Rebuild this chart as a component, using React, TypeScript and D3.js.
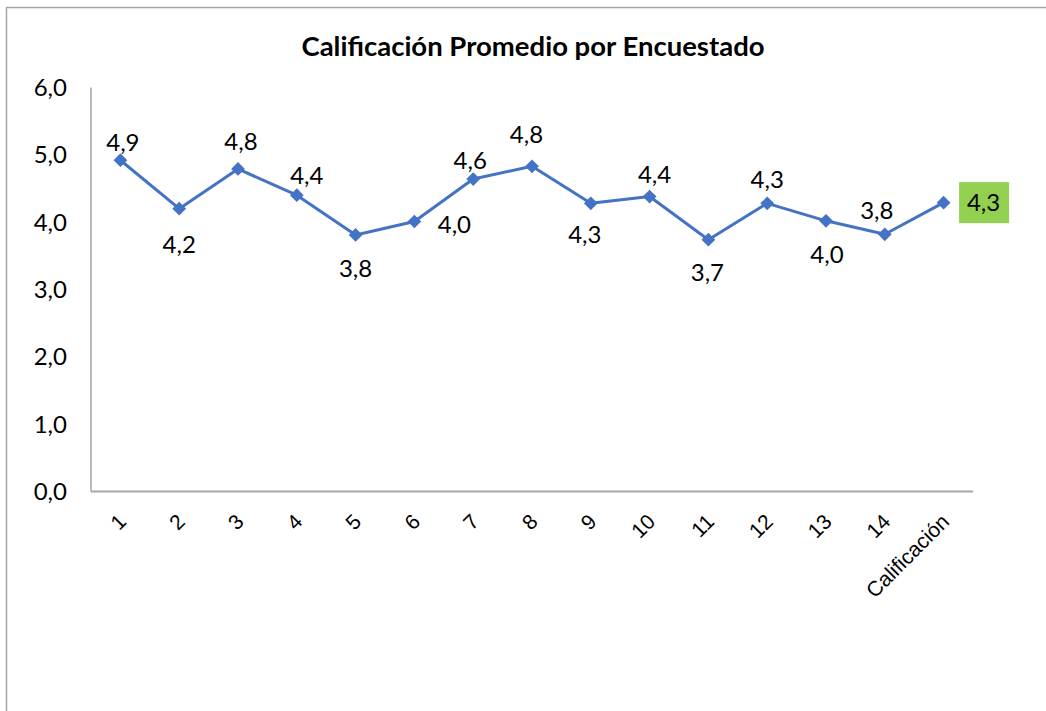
import React from "react";
import * as d3 from "d3";

const categories = ["1","2","3","4","5","6","7","8","9","10","11","12","13","14","Calificación"];
const values = [4.92,4.2,4.79,4.4,3.81,4.01,4.64,4.83,4.28,4.38,3.74,4.28,4.02,3.82,4.29];
const labels = ["4,9","4,2","4,8","4,4","3,8","4,0","4,6","4,8","4,3","4,4","3,7","4,3","4,0","3,8","4,3"];
const labelPos = ["above","below","above","above","below","right","above","above","below","above","below","above","below","above","box"];
// label nudges relative to the point (layout only)
const labelNudge: [number, number][] = [
  [2.5,-18],[0,36],[3,-27],[10,-19.5],[0,34],[40,3],[-3,-18.5],[-5.5,-31.5],
  [-6,31],[5,-22],[-1,33],[0,-24],[1,34],[-8,-24],[40,0],
];
const yTicks = [0,1,2,3,4,5,6];
const title = "Calificación Promedio por Encuestado";

const W = 1046, H = 711;
const left = 91, right = 973, top = 87.5, bottom = 491.5;
const CAL = "Lato, Carlito, sans-serif";
const ARIAL = "'Liberation Sans', Arial, sans-serif";

export default function App() {
  const x = d3.scaleBand<string>().domain(categories).range([left, right]);
  const y = d3.scaleLinear().domain([0, 6]).range([bottom, top]);
  const cx = (i: number) => (x(categories[i]) as number) + x.bandwidth() / 2;
  const line = d3.line<number>().x((_, i) => cx(i)).y((d) => y(d));
  const diamond = d3.symbol().type(d3.symbolDiamond2).size(120)();

  return (
    <svg width={W} height={H} style={{ position: "absolute", left: 0, top: 0, background: "#fff" }}>
      <rect x={6.5} y={7.5} width={W + 10} height={H + 10} fill="#fff" stroke="#a6a6a6" strokeWidth={1.5} />
      <text x={533} y={46} dy="0.35em" textAnchor="middle" fontFamily={CAL} fontWeight="bold" fontSize={27.5} fill="#000">{title}</text>
      {yTicks.map((t) => (
        <text key={t} x={67} y={y(t)} dy="0.35em" textAnchor="end" fontFamily={CAL} fontSize={24} fill="#000">
          {d3.format(".1f")(t).replace(".", ",")}
        </text>
      ))}
      <line x1={left} x2={left} y1={top} y2={bottom} stroke="#a6a6a6" strokeWidth={1.5} />
      <line x1={left} x2={right} y1={bottom} y2={bottom} stroke="#a6a6a6" strokeWidth={2} />
      {categories.map((c, i) => (
        <text key={c} transform={`translate(${cx(i) + 7},${523}) rotate(-45)`} textAnchor="end"
          fontFamily={ARIAL} fontSize={21} fill="#000">{c}</text>
      ))}
      <path d={line(values) || ""} fill="none" stroke="#4472C4" strokeWidth={3} strokeLinejoin="round" />
      {values.map((v, i) => (
        <path key={i} d={diamond || ""} transform={`translate(${cx(i)},${y(v)})`} fill="#4472C4" />
      ))}
      {values.map((v, i) => {
        const p = labelPos[i];
        const px = cx(i), py = y(v);
        const [ndx, ndy] = labelNudge[i];
        if (p === "box") {
          return (
            <g key={i}>
              <rect x={px + 15.5} y={py - 20.5} width={50} height={41} fill="#92D050" />
              <text x={px + ndx} y={py + ndy} dy="0.35em" textAnchor="middle" fontFamily={CAL} fontSize={24} fill="#000">{labels[i]}</text>
            </g>
          );
        }
        return (
          <text key={i} x={px + ndx} y={py + ndy} dy="0.35em" textAnchor="middle" fontFamily={CAL} fontSize={24} fill="#000">{labels[i]}</text>
        );
      })}
    </svg>
  );
}
